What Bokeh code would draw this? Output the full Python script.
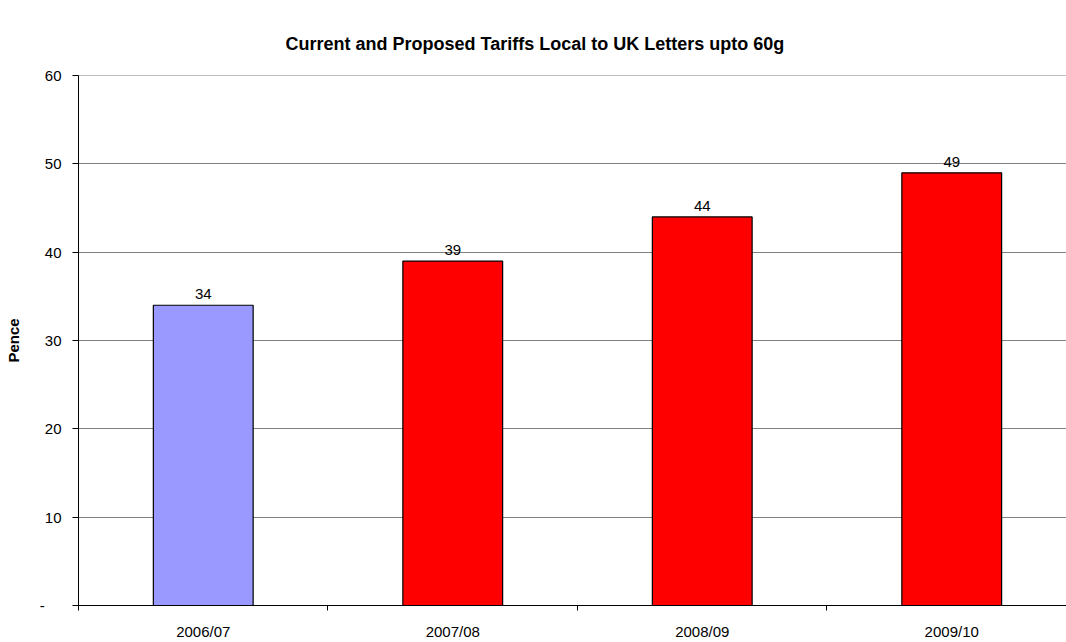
from bokeh.plotting import figure
from bokeh.models import Range1d, FixedTicker, ColumnDataSource, Title
from bokeh.embed import file_html
from bokeh.resources import INLINE
from bokeh.core.properties import value

categories = ["2006/07", "2007/08", "2008/09", "2009/10"]
pence = [34, 39, 44, 49]
colors = ["#9999FF", "#FF0000", "#FF0000", "#FF0000"]
y_ticks = [0, 10, 20, 30, 40, 50, 60]
title_text = "Current and Proposed Tariffs Local to UK Letters upto 60g"
y_label = "Pence"

xs = [i + 0.5 for i in range(len(categories))]
src = ColumnDataSource(dict(x=xs, top=pence, color=colors,
                            label=[str(v) for v in pence]))

FONT = "Liberation Sans"

p = figure(width=1066, height=642, output_backend="svg", toolbar_location=None,
           x_range=Range1d(0, 3.96), y_range=Range1d(0, 60.02),
           min_border_left=78, min_border_right=0, min_border_top=75,
           min_border_bottom=30)
p.title = None
t = Title(text=title_text, align="left", offset=207, text_font=FONT,
          text_font_size="18px", text_font_style="bold", text_color="black",
          standoff=44)
p.add_layout(t, "above")

p.vbar(x="x", top="top", width=0.4, bottom=0, source=src, fill_color="color",
       line_color="black", line_width=1.2)
p.text(x="x", y="top", text="label", source=src, text_align="center",
       text_baseline="alphabetic", y_offset=-11, text_font=value(FONT),
       text_font_size="15px", text_color="black")

p.outline_line_color = None
p.background_fill_color = "white"
p.border_fill_color = "white"

p.xgrid.grid_line_color = None
p.ygrid.grid_line_color = "#808080"
p.ygrid.grid_line_width = 1
p.ygrid.ticker = FixedTicker(ticks=y_ticks)

p.yaxis.ticker = FixedTicker(ticks=y_ticks)
p.yaxis.major_label_overrides = {0: "-" + "\u00a0" * 4}
p.yaxis.major_tick_out = 6
p.yaxis.major_tick_in = 0
p.yaxis.minor_tick_line_color = None
p.yaxis.axis_line_color = "black"
p.yaxis.major_tick_line_color = "black"
p.yaxis.major_label_standoff = 11
p.yaxis.major_label_text_font = FONT
p.yaxis.major_label_text_font_size = "15px"
p.yaxis.major_label_text_color = "black"
p.yaxis.axis_label = y_label
p.yaxis.axis_label_text_font = FONT
p.yaxis.axis_label_text_font_size = "15px"
p.yaxis.axis_label_text_font_style = "bold"
p.yaxis.axis_label_text_color = "black"
p.yaxis.axis_label_standoff = 15

p.xaxis.ticker = FixedTicker(ticks=xs, minor_ticks=[0, 1, 2, 3])
p.xaxis.major_label_overrides = {x: c for x, c in zip(xs, categories)}
p.xaxis.major_tick_out = 0
p.xaxis.major_tick_in = 0
p.xaxis.major_tick_line_color = None
p.xaxis.minor_tick_out = 5
p.xaxis.minor_tick_in = 0
p.xaxis.minor_tick_line_color = "black"
p.xaxis.axis_line_color = "black"
p.xaxis.major_label_standoff = 12
p.xaxis.major_label_text_font = FONT
p.xaxis.major_label_text_font_size = "15px"
p.xaxis.major_label_text_color = "black"

open("out.html", "w").write(file_html(p, INLINE))
